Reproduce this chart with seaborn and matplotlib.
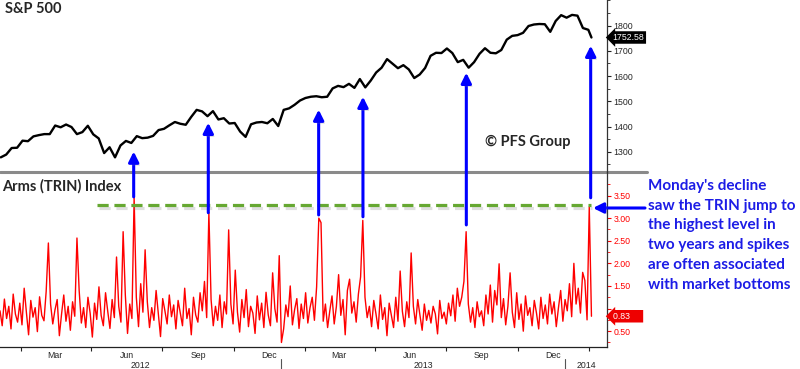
import pandas as pd
import seaborn as sns
import matplotlib.pyplot as plt
import matplotlib.dates as mdates
import matplotlib.patheffects as pe
from matplotlib.transforms import blended_transform_factory

sns.set_style('white')
plt.rcParams['font.family'] = ['Lato', 'DejaVu Sans']

# S&P 500, weekly closes (Fridays from 2012-01-06) + last print
spx_weekly = [
    1278, 1289, 1315, 1316, 1344, 1342, 1361, 1366, 1370, 1370, 1404, 1397, 1408,
    1398, 1370, 1378, 1403, 1369, 1353, 1295, 1318, 1278, 1325, 1343, 1335, 1362,
    1354, 1356, 1363, 1386, 1391, 1405, 1418, 1411, 1407, 1438, 1466, 1460, 1441,
    1461, 1428, 1433, 1412, 1414, 1380, 1359, 1409, 1416, 1418, 1413, 1430, 1402,
    1466, 1472, 1486, 1503, 1513, 1518, 1520, 1516, 1518, 1551, 1561, 1556, 1569,
    1553, 1588, 1555, 1582, 1614, 1633, 1667, 1649, 1631, 1643, 1626, 1592, 1606,
    1632, 1680, 1692, 1691, 1709, 1691, 1655, 1664, 1633, 1655, 1688, 1710, 1692,
    1690, 1703, 1744, 1759, 1762, 1771, 1798, 1804, 1806, 1805, 1775, 1818, 1841,
    1831, 1842, 1839, 1790, 1783,
]
spx_last_date = '2014-02-04'
spx_last = 1752.58

# Arms (TRIN) index, evenly spaced readings from trin_start to trin_end
trin = [
    0.95, 0.62, 1.21, 0.78, 1.05, 0.55, 1.32, 0.88, 0.70, 1.12,
    0.64, 1.45, 0.92, 0.42, 1.18, 0.81, 1.02, 0.49, 1.26, 0.85,
    0.73, 1.38, 2.45, 1.10, 0.66, 0.97, 1.20, 0.40, 0.88, 1.30,
    0.72, 1.05, 0.52, 1.15, 0.83, 2.56, 1.40, 0.68, 1.02, 0.58,
    1.25, 0.90, 0.37, 1.12, 0.76, 1.48, 0.85, 0.62, 1.35, 0.94,
    0.56, 1.20, 0.80, 2.14, 1.05, 0.70, 2.70, 1.30, 0.45, 1.10,
    0.78, 3.45, 1.25, 0.60, 1.55, 0.92, 2.30, 1.15, 0.58, 1.02,
    0.74, 1.40, 0.88, 0.38, 1.22, 0.95, 0.66, 1.30, 0.82, 1.08,
    0.55, 1.18, 0.90, 0.62, 1.45, 0.78, 1.00, 0.42, 1.25, 0.86,
    0.70, 1.35, 0.95, 1.60, 0.80, 3.12, 1.20, 0.62, 1.05, 0.74,
    1.30, 0.58, 1.15, 0.88, 2.74, 1.10, 0.66, 1.85, 0.92, 0.48,
    1.20, 0.80, 1.42, 0.60, 1.05, 0.90, 0.45, 1.28, 0.75, 1.12,
    0.58, 1.36, 0.86, 0.62, 1.79, 1.00, 0.70, 2.17, 0.25, 0.55,
    1.08, 0.82, 1.50, 0.64, 0.98, 1.22, 0.56, 1.10, 0.78, 1.35,
    0.68, 1.02, 1.25, 0.74, 1.48, 3.00, 2.90, 0.72, 1.10, 0.58,
    0.95, 1.28, 0.66, 1.05, 1.75, 0.85, 1.20, 0.42, 1.40, 1.65,
    0.90, 1.15, 0.70, 1.32, 1.70, 2.95, 1.25, 0.80, 1.05, 0.60,
    1.18, 0.88, 0.55, 1.30, 0.76, 1.02, 0.40, 1.12, 0.85, 0.58,
    1.25, 0.72, 1.83, 0.94, 0.60, 1.15, 0.80, 2.23, 1.05, 0.66,
    1.20, 0.85, 0.52, 1.10, 0.74, 0.96, 0.68, 1.05, 0.88, 0.44,
    1.18, 0.78, 0.92, 0.66, 1.12, 0.84, 1.30, 0.72, 1.45, 1.05,
    1.25, 1.60, 2.70, 1.10, 0.70, 1.02, 0.58, 1.15, 0.82, 0.95,
    0.62, 1.30, 0.88, 1.52, 0.70, 1.40, 1.08, 1.99, 0.80, 1.22,
    0.64, 1.05, 1.79, 0.92, 0.58, 1.35, 0.76, 1.10, 0.50, 1.28,
    0.85, 1.02, 0.62, 1.18, 0.90, 0.55, 1.25, 0.78, 1.08, 0.66,
    1.32, 0.88, 1.15, 0.60, 1.02, 1.40, 0.72, 1.20, 0.95, 1.55,
    0.82, 2.00, 1.10, 1.45, 0.90, 1.80, 1.62, 0.75, 3.25, 0.83,
]
trin_start, trin_end = '2012-01-05', '2014-02-04'

# spikes highlighted with arrows: date, S&P level at tip, TRIN level at base
arrow_dates = ['2012-06-25', '2012-09-29', '2013-02-18', '2013-04-16', '2013-08-27', '2014-02-03']
arrow_tips = [1301, 1415, 1467, 1518, 1613, 1720]
arrow_bases = [3.47, 3.12, 3.07, 3.03, 2.85, 3.45]
trin_level = 3.28
level_start, level_end = '2012-05-09', '2014-02-03'

note = ("Monday's decline\nsaw the TRIN jump to\nthe highest level in\n"
        "two years and spikes\nare often associated\nwith market bottoms")

spx_dates = list(pd.date_range('2012-01-06', periods=len(spx_weekly), freq='W-FRI')) + [pd.Timestamp(spx_last_date)]
df_spx = pd.DataFrame({'date': spx_dates, 'close': spx_weekly + [spx_last]})
df_trin = pd.DataFrame({'date': pd.date_range(trin_start, trin_end, periods=len(trin)), 'trin': trin})

W, H = 800, 369
fig = plt.figure(figsize=(W / 100, H / 100), dpi=100)
ax_top = fig.add_axes([0, 1 - 172 / H, 607 / W, 172 / H])
ax_bot = fig.add_axes([0, 1 - 347 / H, 607 / W, 175 / H])
xlim = (mdates.date2num(pd.Timestamp('2012-01-05')), mdates.date2num(pd.Timestamp('2014-02-24')))

tick_font = dict(family='Liberation Sans', size=6.3)

# --- S&P panel
sns.lineplot(data=df_spx, x='date', y='close', ax=ax_top, color='black', lw=1.7)
ax_top.set(xlim=xlim, ylim=(1220, 1901), xlabel='', ylabel='')
ax_top.set_xticks([])
ax_top.yaxis.tick_right()
ax_top.set_yticks(range(1300, 1801, 100))
ax_top.set_yticks(range(1250, 1901, 50), minor=True)
ax_top.tick_params(axis='y', which='major', length=3, width=0.8, pad=1.5, right=True, color='#222')
ax_top.tick_params(axis='y', which='minor', length=2, width=0.6, right=True, color='#222')
for lab in ax_top.get_yticklabels():
    lab.set_fontproperties(tick_font)
for s in ['top', 'left', 'bottom']:
    ax_top.spines[s].set_visible(False)
ax_top.spines['right'].set_color('#333')
ax_top.spines['right'].set_linewidth(0.9)
ax_top.plot([0, 647 / 607], [0, 0], transform=ax_top.transAxes, clip_on=False, color='#8a8a8a', lw=2.2)

ax_top.annotate(f'{spx_last:.2f}', xy=(1, spx_last), xycoords=('axes fraction', 'data'),
                xytext=(4, 0), textcoords='offset points', ha='left', va='center',
                color='white', fontproperties=tick_font,
                bbox=dict(boxstyle='larrow,pad=0.2', fc='black', ec='none'))

# --- TRIN panel
sns.lineplot(data=df_trin, x='date', y='trin', ax=ax_bot, color='#ff0000', lw=1.0)
ax_bot.set(xlim=xlim, ylim=(0.15, 4.02), xlabel='', ylabel='')
ax_bot.patch.set_alpha(0)
ax_bot.yaxis.tick_right()
ax_bot.set_yticks([0.5, 1.0, 1.5, 2.0, 2.5, 3.0, 3.5])
ax_bot.set_yticks([0.25, 0.75, 1.25, 1.75, 2.25, 2.75, 3.25, 3.75], minor=True)
# the 1.00 label sits behind the last-value tag
ax_bot.yaxis.set_major_formatter(plt.FuncFormatter(lambda v, p: '' if abs(v - 1) < 1e-9 else f'{v:.2f}'))
ax_bot.tick_params(axis='y', which='major', length=3, width=0.8, pad=1.5, right=True, color='red', labelcolor='red')
ax_bot.tick_params(axis='y', which='minor', length=2, width=0.6, right=True, color='red')
for lab in ax_bot.get_yticklabels():
    lab.set_fontproperties(tick_font)
for s in ['top', 'left']:
    ax_bot.spines[s].set_visible(False)
ax_bot.spines['right'].set_color('#333')
ax_bot.spines['bottom'].set_color('#222')
ax_bot.spines['right'].set_linewidth(0.9)
ax_bot.spines['bottom'].set_linewidth(0.9)

# x axis: quarter ticks, month names centred between them
ax_bot.xaxis.set_minor_locator(mdates.MonthLocator(bymonth=[2, 5, 8, 11]))
ax_bot.xaxis.set_major_locator(mdates.MonthLocator(bymonth=[3, 6, 9, 12], bymonthday=16))
ax_bot.xaxis.set_major_formatter(mdates.DateFormatter('%b'))
ax_bot.tick_params(axis='x', which='major', length=0, pad=3)
ax_bot.tick_params(axis='x', which='minor', length=3, width=0.8, bottom=True, color='#222')
for lab in ax_bot.get_xticklabels():
    lab.set_fontproperties(tick_font)

tr = blended_transform_factory(ax_bot.transData, ax_bot.transAxes)
years = [('2012', '2012-01-05', '2013-01-01'), ('2013', '2013-01-01', '2014-01-01'), ('2014', '2014-01-01', '2014-02-24')]
for label, a, b in years:
    a, b = mdates.date2num(pd.Timestamp(a)), mdates.date2num(pd.Timestamp(b))
    ax_bot.text((a + b) / 2, -0.103, label, transform=tr, ha='center', va='center', fontproperties=tick_font)
for d in ['2013-01-01', '2014-01-01']:
    x = mdates.date2num(pd.Timestamp(d))
    ax_bot.plot([x, x], [-0.07, -0.13], transform=tr, clip_on=False, color='#555', lw=0.8)

ax_bot.annotate(f'{trin[-1]:.2f}     ', xy=(1, trin[-1]), xycoords=('axes fraction', 'data'),
                xytext=(4, 0), textcoords='offset points', ha='left', va='center',
                color='white', fontproperties=tick_font,
                bbox=dict(boxstyle='larrow,pad=0.2', fc='#ee0000', ec='none'))

shadow = [pe.SimpleLineShadow(offset=(1, -1.5), shadow_color='gray', alpha=0.25), pe.Normal()]
ax_bot.plot([pd.Timestamp(level_start), pd.Timestamp(level_end)], [trin_level, trin_level],
            color='#66a832', lw=2.3, ls=(0, (3.5, 1.8)), path_effects=shadow)

# blue arrows from TRIN spikes up to the S&P line
arrow_shadow = [pe.SimplePatchShadow(offset=(1.5, -1.5), shadow_rgbFace='gray', alpha=0.4), pe.Normal()]
for d, tip, base in zip(arrow_dates, arrow_tips, arrow_bases):
    x = mdates.date2num(pd.Timestamp(d))
    ax_bot.annotate('', xy=(x, tip), xycoords=ax_top.transData,
                    xytext=(x, base), textcoords=ax_bot.transData, annotation_clip=False,
                    arrowprops=dict(arrowstyle='-|>,head_length=0.6,head_width=0.3',
                                    color='#0000ff', lw=2.2, shrinkA=0, shrinkB=0,
                                    path_effects=arrow_shadow))

ax_bot.annotate('', xy=(593 / W, 1 - 208 / H), xycoords='figure fraction',
                xytext=(645 / W, 1 - 208 / H), textcoords='figure fraction', annotation_clip=False,
                arrowprops=dict(arrowstyle='-|>,head_length=0.6,head_width=0.3',
                                color='#0000ff', lw=2.2, shrinkA=0, shrinkB=0,
                                path_effects=arrow_shadow))

# texts
fig.text(5 / W, 1 - 9 / H, 'S&P 500', fontsize=10.5, fontweight='bold', ha='left', va='center')
fig.text(2 / W, 1 - 186 / H, 'Arms (TRIN) Index', fontsize=10.5, fontweight='bold', ha='left', va='center')
fig.text(485 / W, 1 - 142 / H, '© PFS Group', fontsize=10.5, fontweight='bold', ha='left', va='center')
fig.text(648 / W, 1 - 179 / H, note, fontsize=11.0, fontweight='bold', color='#1c1ce6',
         ha='left', va='top', linespacing=1.52)

fig.savefig('out.png', dpi=100)
